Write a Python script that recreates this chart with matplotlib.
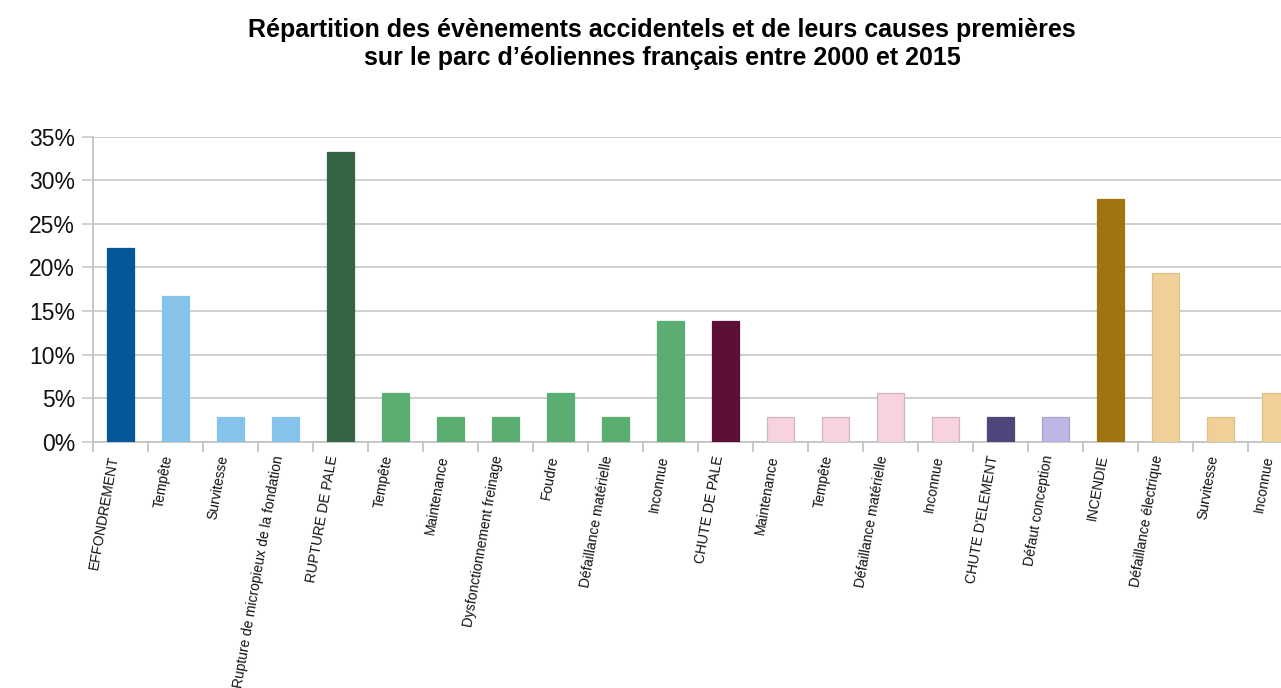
import matplotlib
matplotlib.use("Agg")
import matplotlib.pyplot as plt
from matplotlib.ticker import FixedLocator, PercentFormatter

plt.rcParams['font.family'] = ['Liberation Sans', 'DejaVu Sans']

# accident types (uppercase) followed by their primary causes
labels = ["EFFONDREMENT", "Tempête", "Survitesse", "Rupture de micropieux de la fondation",
          "RUPTURE DE PALE", "Tempête", "Maintenance", "Dysfonctionnement freinage", "Foudre",
          "Défaillance matérielle", "Inconnue",
          "CHUTE DE PALE", "Maintenance", "Tempête", "Défaillance matérielle", "Inconnue",
          "CHUTE D'ELEMENT", "Défaut conception",
          "INCENDIE", "Défaillance électrique", "Survitesse", "Inconnue"]
values = [22.2, 16.7, 2.8, 2.8,
          33.3, 5.6, 2.8, 2.8, 5.6, 2.8, 13.9,
          13.9, 2.8, 2.8, 5.6, 2.8,
          2.8, 2.8,
          27.8, 19.4, 2.8, 5.6]
groups = ["effondrement"] + ["eff_cause"] * 3 + ["pale"] + ["pale_cause"] * 6 + \
         ["chute"] + ["chute_cause"] * 4 + ["element"] + ["element_cause"] + \
         ["incendie"] + ["incendie_cause"] * 3

colors = {
    "effondrement": "#04589a", "eff_cause": "#85c3ea",
    "pale": "#336545", "pale_cause": "#5aae72",
    "chute": "#5d0f37", "chute_cause": "#f8d2dc",
    "element": "#4c467a", "element_cause": "#bdb7e8",
    "incendie": "#a07410", "incendie_cause": "#f1cf98",
}
edges = {
    "chute_cause": "#c9b8c0", "element_cause": "#a9a4cc", "incendie_cause": "#dcc08e",
}

W, H = 1281, 688
fig = plt.figure(figsize=(W / 100, H / 100), dpi=100)
ax = fig.add_axes([93 / W, 246.3 / H, 1210 / W, 305 / H])

x = list(range(len(values)))
bar_colors = [colors[g] for g in groups]
bar_edges = [edges.get(g, colors[g]) for g in groups]
ax.bar(x, values, width=0.5, color=bar_colors, edgecolor=bar_edges, linewidth=0.9, zorder=3)

ax.set_xlim(-0.5, len(values) - 0.5)
ax.set_ylim(0, 35)
ax.set_yticks(range(0, 36, 5))
ax.yaxis.set_major_formatter(PercentFormatter(decimals=0))
ax.grid(axis='y', color='#cfcfcf', linewidth=1.4, zorder=0)

for s in ["top", "right"]:
    ax.spines[s].set_visible(False)
for s in ["left", "bottom"]:
    ax.spines[s].set_color('#c4c4c4')
    ax.spines[s].set_linewidth(1.3)

ax.tick_params(axis='y', length=8, width=1.3, color='#cfcfcf', pad=5,
               labelsize=16.5, labelcolor='#111111')

# category boundaries carry the tick marks, labels sit under the bars
ax.set_xticks(x)
ax.xaxis.set_minor_locator(FixedLocator([i - 0.5 for i in range(len(values) + 1)]))
ax.tick_params(axis='x', which='minor', length=7, width=1.3, color='#c4c4c4')
ax.tick_params(axis='x', which='major', length=0, pad=9)
ax.set_xticklabels(labels, rotation=80, ha='right', va='top', fontsize=10, color='#111111')

fig.text(662 / W, 1 - 30 / H, "Répartition des évènements accidentels et de leurs causes premières",
         ha='center', va='center', fontsize=18, fontweight='bold')
fig.text(662 / W, 1 - 58 / H, "sur le parc d’éoliennes français entre 2000 et 2015",
         ha='center', va='center', fontsize=18, fontweight='bold')

fig.savefig("out.png", dpi=100)
